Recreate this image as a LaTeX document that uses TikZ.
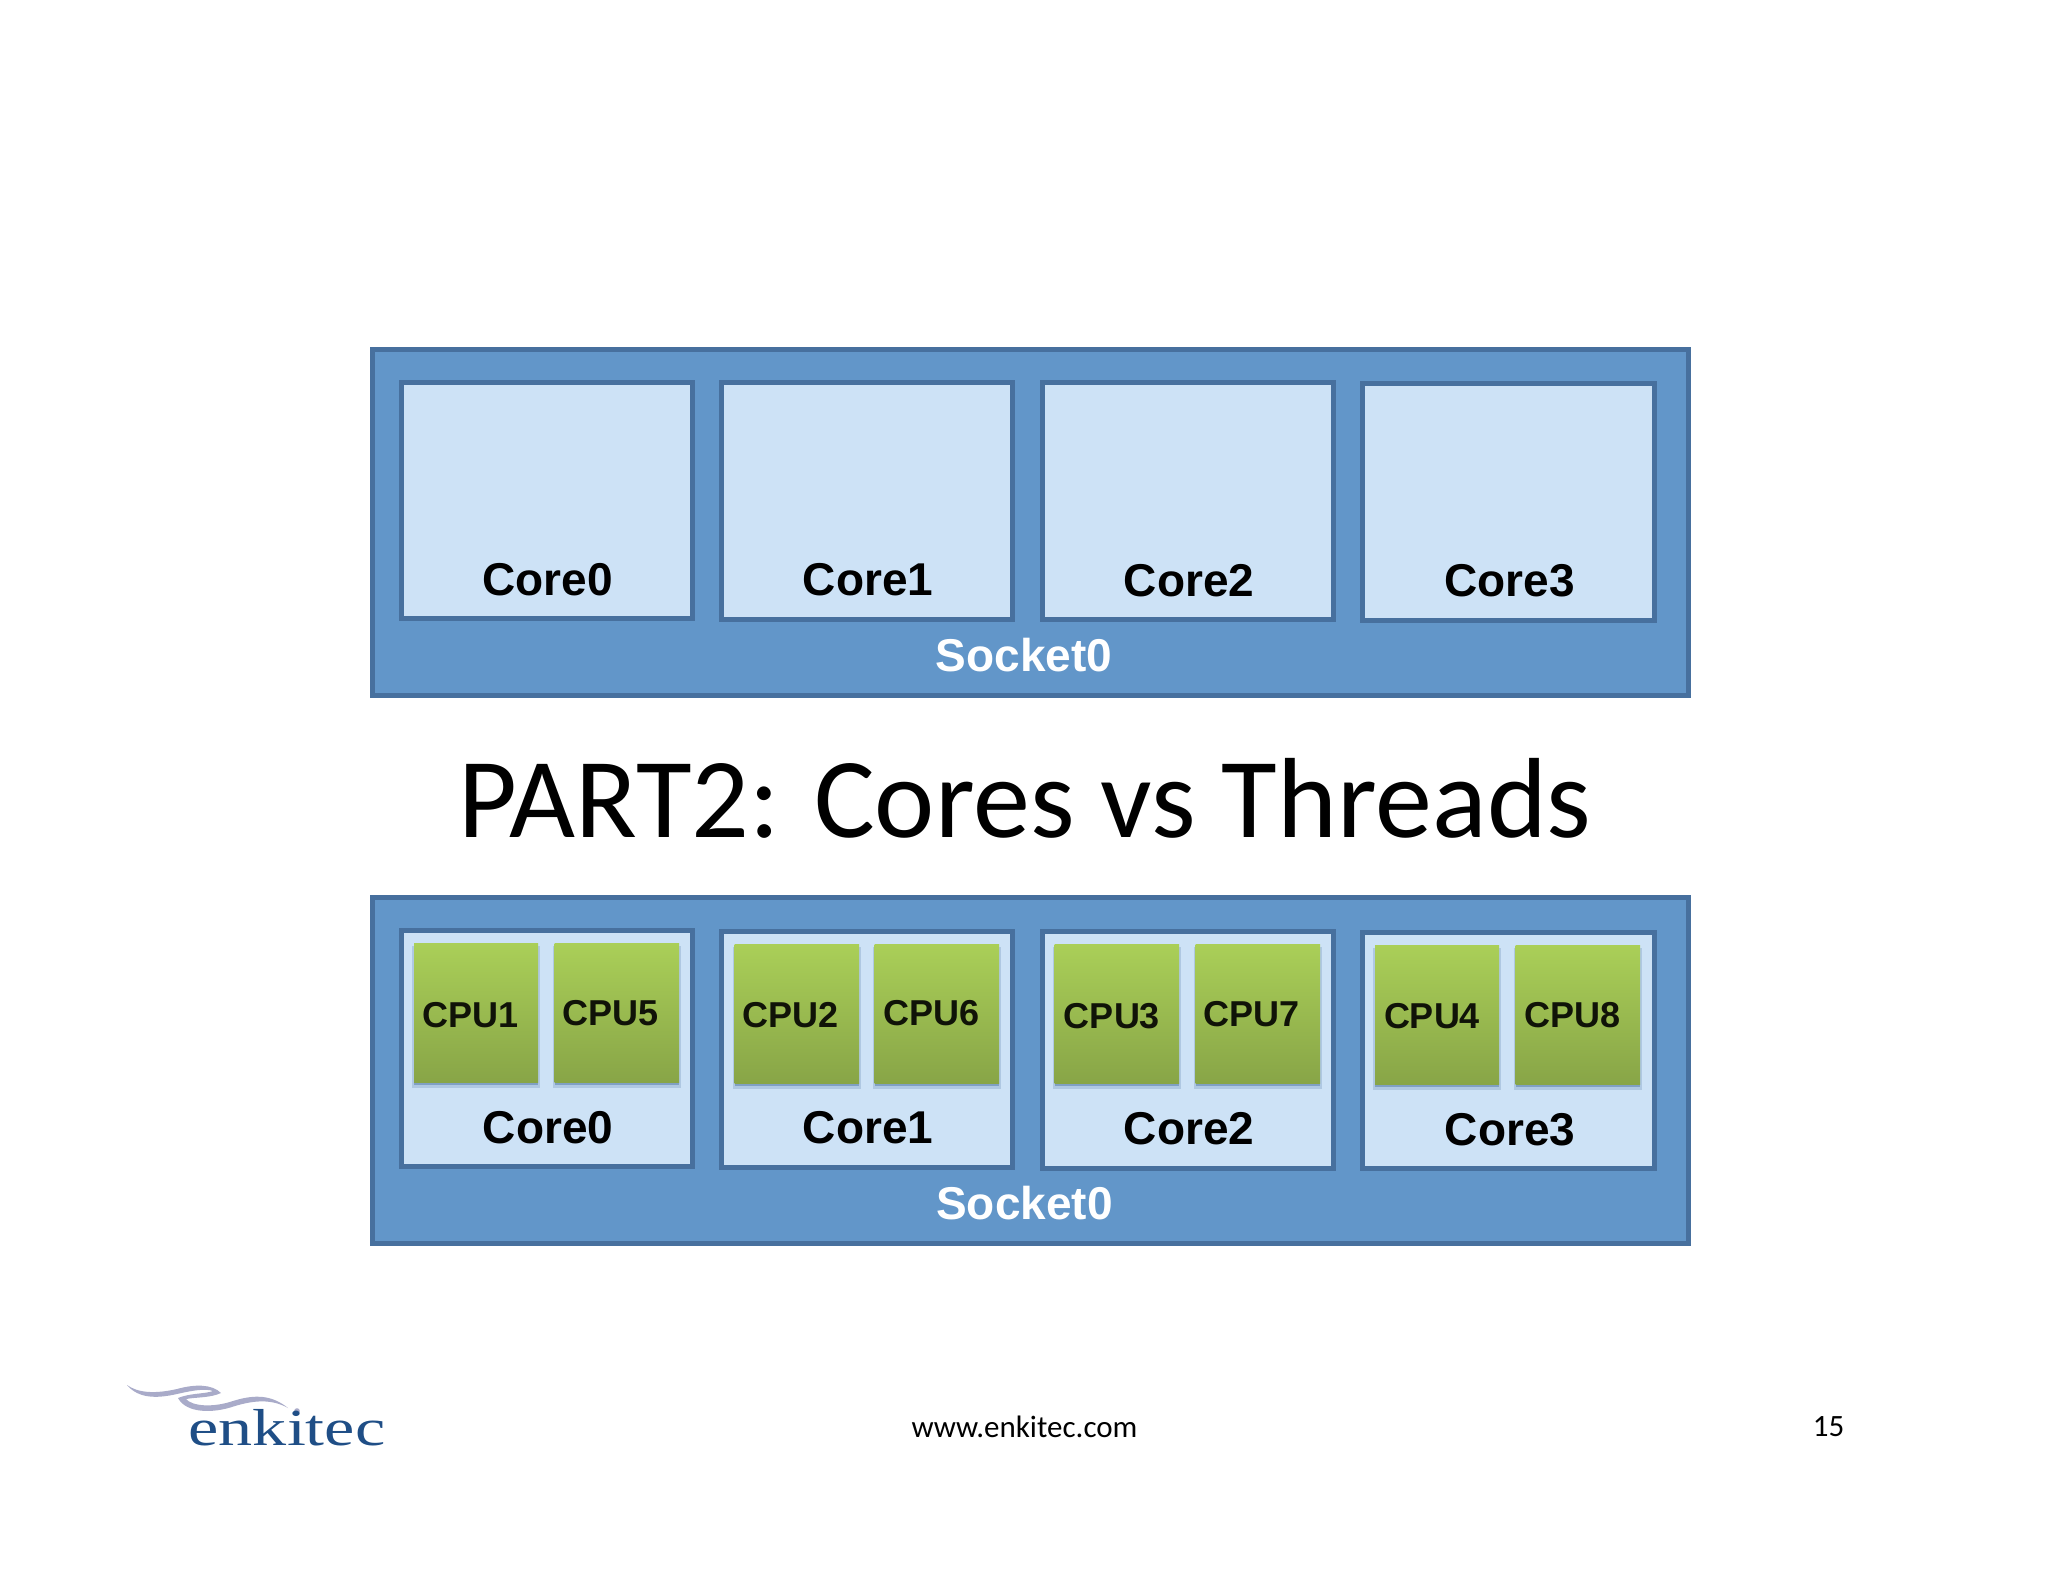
\documentclass[tikz,border=0pt]{standalone}
\usepackage{fontspec}
\usepackage{graphicx}
\setmainfont{Liberation Sans}
\newfontfamily\calfont{Carlito}
\newfontfamily\logofont{Liberation Serif}
\definecolor{socketfill}{HTML}{6296C9}
\definecolor{socketline}{HTML}{47709E}
\definecolor{corefill}{HTML}{CDE2F6}
\definecolor{cputop}{HTML}{AACF58}
\definecolor{cpumid}{HTML}{A0C253}
\definecolor{cpubot}{HTML}{88A547}
\definecolor{logoblue}{HTML}{1F4E86}
\definecolor{swoosh}{HTML}{A9ABC9}
\tikzset{
  socketbox/.style={draw=socketline,fill=socketfill,line width=5pt,inner sep=0pt,outer sep=0pt},
  corebox/.style={draw=socketline,fill=corefill,line width=5pt,inner sep=0pt,outer sep=0pt},
  cpubox/.style={top color=cputop,middle color=cpumid,bottom color=cpubot,inner sep=0pt,outer sep=0pt},
  corelabel/.style={font=\bfseries\fontsize{46}{50}\selectfont,text=black,inner sep=0pt},
  socketlabel/.style={font=\bfseries\fontsize{46}{50}\selectfont,text=white,inner sep=0pt},
  cpulabel/.style={font=\bfseries\fontsize{36}{40}\selectfont,text=black!90!cpumid,inner sep=0pt},
  titlelabel/.style={font=\calfont\fontsize{114}{125}\selectfont,text=black,inner sep=0pt},
  footlabel/.style={font=\calfont\fontsize{31}{34}\selectfont,text=black,inner sep=0pt},
  logotext/.style={font=\logofont\fontsize{52}{52}\selectfont,text=logoblue,inner sep=0pt,anchor=base},
}
\newcommand{\rectnode}[6]{%
  \node[#2,minimum width={(#5-#3)*1pt},minimum height={(#6-#4)*1pt}] (#1) at ({(#3+#5)/2},{(#4+#6)/2}) {};}
\newcommand{\cpubx}[5]{%
  \fill[socketline,opacity=.22] (#2-2,#3+3) rectangle (#4+2,#5+6);
  \fill[socketline,opacity=.45] (#2,#3+3) rectangle (#4,#5+3);
  \rectnode{#1}{cpubox}{#2}{#3}{#4}{#5}}
\begin{document}
\begin{tikzpicture}[x=1pt,y=-1pt]
\useasboundingbox (0,0) rectangle (2048,1582);
\fill[white] (0,0) rectangle (2048,1582);
% upper socket
\rectnode{sockA}{socketbox}{372}{349}{1688}{695}
\rectnode{coreA0}{corebox}{401.5}{382}{692.5}{618.5}
\rectnode{coreA1}{corebox}{721.5}{382.5}{1012.5}{619}
\rectnode{coreA2}{corebox}{1042}{382.5}{1333.5}{619.5}
\rectnode{coreA3}{corebox}{1362.5}{383}{1654}{620}
\node[corelabel] (labA0) at (547.5,580) {Core0};
\node[corelabel] (labA1) at (868,580) {Core1};
\node[corelabel] (labA2) at (1189,580.5) {Core2};
\node[corelabel] (labA3) at (1509.5,581) {Core3};
\node[socketlabel] (labSockA) at (1024,655) {Socket0};
% title
\node[titlelabel] (title) at (1025,798) {PART2: Cores vs Threads};
% lower socket
\rectnode{sockB}{socketbox}{372}{897.5}{1688}{1243.5}
\rectnode{coreB0}{corebox}{401.5}{930.5}{692.5}{1166.5}
\rectnode{coreB1}{corebox}{721.5}{931}{1012.5}{1167}
\rectnode{coreB2}{corebox}{1042}{931}{1333.5}{1168}
\rectnode{coreB3}{corebox}{1362.5}{932}{1654}{1168.5}
\cpubx{cpu1}{414}{943}{538}{1082}
\cpubx{cpu5}{554.5}{943}{679}{1082}
\cpubx{cpu2}{734.5}{944}{859}{1083}
\cpubx{cpu6}{874.5}{944}{999}{1083}
\cpubx{cpu3}{1054.5}{944}{1179}{1083}
\cpubx{cpu7}{1195.5}{944}{1320}{1083}
\cpubx{cpu4}{1375}{945}{1499}{1084}
\cpubx{cpu8}{1515.5}{945}{1640}{1084}
\node[cpulabel] (lab1) at (470.5,1015) {CPU1};
\node[cpulabel] (lab5) at (611,1013) {CPU5};
\node[cpulabel] (lab2) at (791,1015) {CPU2};
\node[cpulabel] (lab6) at (931.5,1013.5) {CPU6};
\node[cpulabel] (lab3) at (1112,1016) {CPU3};
\node[cpulabel] (lab7) at (1251.5,1014) {CPU7};
\node[cpulabel] (lab4) at (1432,1016) {CPU4};
\node[cpulabel] (lab8) at (1572.5,1015) {CPU8};
\node[corelabel] (labB0) at (548,1128) {Core0};
\node[corelabel] (labB1) at (868,1128) {Core1};
\node[corelabel] (labB2) at (1189,1129) {Core2};
\node[corelabel] (labB3) at (1510,1129.5) {Core3};
\node[socketlabel] (labSockB) at (1024.5,1203) {Socket0};
% footer
\node[footlabel] (url) at (1024.5,1427) {www.enkitec.com};
\node[footlabel] (page) at (1828.5,1427) {15};
% logo
\fill[swoosh] (127,1385) .. controls (138,1393) and (155,1394) .. (177,1389)
  .. controls (195,1384) and (212,1384) .. (221,1393)
  .. controls (210,1398) and (197,1397) .. (186,1399)
  .. controls (192,1406) and (212,1408) .. (233,1401)
  .. controls (255,1394) and (272,1395) .. (288,1408)
  .. controls (272,1399) and (255,1400) .. (235,1406)
  .. controls (212,1414) and (186,1413) .. (178,1398)
  .. controls (190,1393) and (205,1394) .. (213,1391)
  .. controls (205,1388) and (190,1391) .. (177,1394)
  .. controls (155,1399) and (138,1398) .. (127,1385) -- cycle;
\fill[swoosh] (297,1411) circle (2.8);
\node[logotext] (logo) at (287,1445) {\scalebox{1.31}[1]{enkitec}};
\end{tikzpicture}
\end{document}
